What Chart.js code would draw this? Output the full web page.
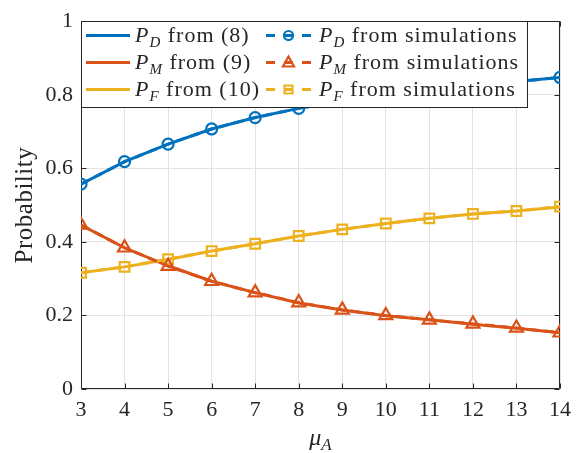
<!DOCTYPE html>
<html>
<head>
<meta charset="utf-8">
<script src="https://cdn.jsdelivr.net/npm/chart.js@4"></script>
<style>
  html, body { margin: 0; padding: 0; background: #fff; }
  #wrap { width: 579px; height: 453px; }
</style>
</head>
<body>
<div id="wrap"><canvas id="prob-chart" width="579" height="453"></canvas></div>
<script>
  // mean of A on the x axis
  const muA = [3, 4, 5, 6, 7, 8, 9, 10, 11, 12, 13, 14];

  // closed-form curves
  const pdTheory = [0.557, 0.618, 0.666, 0.707, 0.738, 0.763, 0.783, 0.800, 0.814, 0.826, 0.836, 0.847];
  const pmTheory = [0.446, 0.384, 0.335, 0.293, 0.262, 0.234, 0.215, 0.199, 0.188, 0.176, 0.165, 0.153];
  const pfTheory = [0.316, 0.332, 0.352, 0.375, 0.395, 0.416, 0.434, 0.450, 0.464, 0.476, 0.484, 0.495];

  // monte carlo estimates
  const pdSim = [0.557, 0.618, 0.666, 0.707, 0.738, 0.763, 0.783, 0.800, 0.814, 0.826, 0.836, 0.847];
  const pmSim = [0.446, 0.384, 0.334, 0.293, 0.262, 0.235, 0.215, 0.200, 0.188, 0.177, 0.166, 0.153];
  const pfSim = [0.316, 0.332, 0.353, 0.375, 0.395, 0.416, 0.434, 0.450, 0.464, 0.476, 0.484, 0.496];

  const xTicks = [3, 4, 5, 6, 7, 8, 9, 10, 11, 12, 13, 14];
  const yTicks = [0, 0.2, 0.4, 0.6, 0.8, 1];

  const BLUE = '#0072BD', RED = '#D95319', YELLOW = '#EDB120';
  const INK = '#262626';
  const SERIF = '"Liberation Serif", "Times New Roman", serif';

  const legendRows = [
    { color: BLUE,   sub: 'D', eq: ' from (8)',  marker: 'circle' },
    { color: RED,    sub: 'M', eq: ' from (9)',  marker: 'triangle' },
    { color: YELLOW, sub: 'F', eq: ' from (10)', marker: 'rect' }
  ];

  const pts = arr => arr.map((v, i) => ({ x: muA[i], y: v }));

  function theoryLine(data, color) {
    return {
      data: pts(data), borderColor: color, borderWidth: 3,
      pointRadius: 0, fill: false, order: 2
    };
  }
  function simLine(data, color, style, r) {
    return {
      data: pts(data), borderColor: color, borderWidth: 3, borderDash: [9, 6],
      pointStyle: style, pointRadius: r, pointBorderWidth: 2.2,
      pointBorderColor: color, pointBackgroundColor: 'rgba(0,0,0,0)',
      fill: false, order: 1
    };
  }

  // P italic with subscript, then upright tail
  function subLabel(ctx, x, base, sub, tail, size) {
    ctx.textBaseline = 'alphabetic';
    ctx.textAlign = 'left';
    ctx.letterSpacing = '1px';
    ctx.font = `italic ${size}px ${SERIF}`;
    ctx.fillText('P', x, base);
    let w = ctx.measureText('P').width;
    ctx.font = `italic ${Math.round(size * 0.7)}px ${SERIF}`;
    ctx.fillText(sub, x + w, base + 5);
    w += ctx.measureText(sub).width;
    ctx.font = `${size}px ${SERIF}`;
    ctx.fillText(tail, x + w, base);
    ctx.letterSpacing = '0px';
  }

  function marker(ctx, style, cx, cy, color) {
    ctx.save();
    ctx.strokeStyle = color;
    ctx.lineWidth = 2.2;
    ctx.setLineDash([]);
    ctx.beginPath();
    if (style === 'circle') {
      ctx.arc(cx, cy, 4.5, 0, Math.PI * 2);
    } else if (style === 'triangle') {
      ctx.moveTo(cx, cy - 6);
      ctx.lineTo(cx + 5.5, cy + 4);
      ctx.lineTo(cx - 5.5, cy + 4);
      ctx.closePath();
    } else {
      ctx.rect(cx - 4, cy - 4, 8, 8);
    }
    ctx.stroke();
    ctx.restore();
  }

  const axesBox = {
    id: 'axesBox',
    beforeDatasetsDraw(chart) {
      const { ctx, chartArea: a, scales: { x, y } } = chart;
      const L = Math.round(a.left) + 0.5, R = Math.round(a.right) - 0.5;
      const T = Math.round(a.top) + 0.5, B = Math.round(a.bottom) - 0.5;
      ctx.save();
      ctx.strokeStyle = INK;
      ctx.lineWidth = 1;
      ctx.beginPath();
      ctx.rect(L, T, R - L, B - T);
      xTicks.forEach(v => {
        const px = Math.round(x.getPixelForValue(v)) + 0.5;
        ctx.moveTo(px, B); ctx.lineTo(px, B - 5);
        ctx.moveTo(px, T); ctx.lineTo(px, T + 5);
      });
      yTicks.forEach(v => {
        const py = Math.round(y.getPixelForValue(v)) + 0.5;
        ctx.moveTo(L, py); ctx.lineTo(L + 5, py);
        ctx.moveTo(R, py); ctx.lineTo(R - 5, py);
      });
      ctx.stroke();
      ctx.restore();
    },
    afterDraw(chart) {
      const { ctx, chartArea: a } = chart;
      ctx.save();
      ctx.fillStyle = INK;

      // y axis title
      ctx.save();
      ctx.translate(25, (a.top + a.bottom) / 2);
      ctx.rotate(-Math.PI / 2);
      ctx.font = `25px ${SERIF}`;
      ctx.letterSpacing = '0.5px';
      ctx.textAlign = 'center';
      ctx.textBaseline = 'middle';
      ctx.fillText('Probability', 0, 0);
      ctx.restore();

      // x axis title: mu_A
      ctx.font = `italic 24px ${SERIF}`;
      const wMu = ctx.measureText('\u03BC').width;
      ctx.font = `italic 17px ${SERIF}`;
      const wA = ctx.measureText('A').width;
      const x0 = (a.left + a.right) / 2 - (wMu + wA) / 2;
      ctx.textAlign = 'left';
      ctx.textBaseline = 'alphabetic';
      ctx.font = `italic 24px ${SERIF}`;
      ctx.fillText('\u03BC', x0, 445);
      ctx.font = `italic 17px ${SERIF}`;
      ctx.fillText('A', x0 + wMu, 450);

      // legend box
      const bx = Math.round(a.left) + 0.5, by = Math.round(a.top) + 0.5;
      const bw = 446, bh = 86;
      ctx.fillStyle = '#fff';
      ctx.fillRect(bx, by, bw, bh);
      ctx.strokeStyle = INK;
      ctx.lineWidth = 1;
      ctx.strokeRect(bx, by, bw, bh);

      legendRows.forEach((row, i) => {
        const cy = 35.5 + i * 27;
        const base = cy + 6;
        ctx.lineWidth = 3;
        ctx.strokeStyle = row.color;
        ctx.setLineDash([]);
        ctx.beginPath();
        ctx.moveTo(86, cy); ctx.lineTo(130, cy);
        ctx.stroke();
        ctx.fillStyle = INK;
        subLabel(ctx, 135, base, row.sub, row.eq, 22);

        ctx.lineWidth = 3;
        ctx.strokeStyle = row.color;
        ctx.setLineDash([9, 9]);
        ctx.beginPath();
        ctx.moveTo(266, cy); ctx.lineTo(311, cy);
        ctx.stroke();
        ctx.setLineDash([]);
        marker(ctx, row.marker, 288.5, cy, row.color);
        ctx.fillStyle = INK;
        subLabel(ctx, 319, base, row.sub, ' from simulations', 22);
      });
      ctx.restore();
    }
  };

  const ctx = document.getElementById('prob-chart').getContext('2d');
  new Chart(ctx, {
    type: 'line',
    data: {
      datasets: [
        theoryLine(pdTheory, BLUE),
        theoryLine(pmTheory, RED),
        theoryLine(pfTheory, YELLOW),
        simLine(pdSim, BLUE, 'circle', 5.5),
        simLine(pmSim, RED, 'triangle', 7.5),
        simLine(pfSim, YELLOW, 'rect', 6.8)
      ]
    },
    options: {
      responsive: false,
      animation: false,
      devicePixelRatio: 1,
      layout: { padding: { left: 0, right: 13, top: 21, bottom: 0 } },
      plugins: { legend: { display: false }, tooltip: { enabled: false } },
      scales: {
        x: {
          type: 'linear', min: 3, max: 14,
          afterBuildTicks: s => { s.ticks = xTicks.map(v => ({ value: v })); },
          afterFit: s => { s.height = 64; },
          ticks: { color: INK, font: { family: SERIF, size: 22 }, padding: 8 },
          grid: { color: '#e3e3e3', drawTicks: false },
          border: { display: false }
        },
        y: {
          min: 0, max: 1,
          afterBuildTicks: s => { s.ticks = yTicks.map(v => ({ value: v })); },
          afterFit: s => { s.width = 81; },
          ticks: { color: INK, font: { family: SERIF, size: 22 }, padding: 8,
                   callback: v => String(+v.toFixed(1)) },
          grid: { color: '#e3e3e3', drawTicks: false },
          border: { display: false }
        }
      }
    },
    plugins: [axesBox]
  });
</script>
</body>
</html>
